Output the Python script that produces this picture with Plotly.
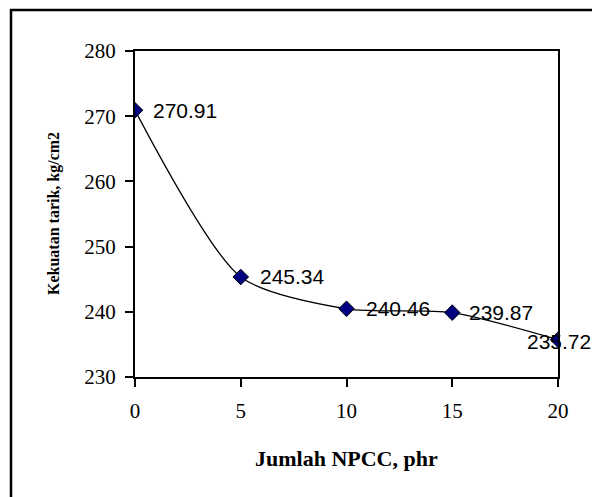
import plotly.graph_objects as go

npcc = [0, 5, 10, 15, 20]
tensile = [270.91, 245.34, 240.46, 239.87, 235.72]
labels = ["270.91", "245.34", "240.46", "239.87", "235.72"]
label_shift = [16, 17, 17, 15, -33]

W, H = 592, 497
L, R, T, B = 135, 34, 51, 120
pw, ph = W - L - R, H - T - B

SERIF = "Liberation Serif, Times New Roman, serif"
SANS = "Liberation Sans, Arial, sans-serif"

fig = go.Figure()
fig.add_trace(go.Scatter(
    x=npcc, y=tensile, mode="lines+markers",
    line=dict(color="black", width=1.3, shape="spline", smoothing=0.7),
    marker=dict(symbol="diamond", size=12, color="#000080",
                line=dict(color="black", width=1)),
    showlegend=False, hoverinfo="skip"))

for xv, yv, lab, sh in zip(npcc, tensile, labels, label_shift):
    fig.add_annotation(x=xv, y=yv, text=lab, showarrow=False,
                       xanchor="left", yanchor="middle", xshift=sh,
                       yshift=(-2 if sh < 0 else 0),
                       font=dict(family=SANS, size=21, color="black"))

axis_common = dict(showline=True, linecolor="black", linewidth=2, mirror=True,
                   ticks="outside", ticklen=8, tickwidth=2, tickcolor="black",
                   showgrid=False, zeroline=False,
                   tickfont=dict(family=SERIF, size=21, color="black"))

fig.update_xaxes(range=[0, 20], tickvals=[0, 5, 10, 15, 20], ticklabelstandoff=6, **axis_common)
fig.update_yaxes(range=[230, 280], tickvals=[230, 240, 250, 260, 270, 280], ticklabelstandoff=5,
                 **axis_common)

# axis titles
fig.add_annotation(xref="paper", yref="paper", x=0.5, y=(H - B - 458) / ph,
                   text="<b>Jumlah NPCC, phr</b>", showarrow=False,
                   xanchor="center", yanchor="middle",
                   font=dict(family=SERIF, size=22, color="black"))
fig.add_annotation(xref="paper", yref="paper", x=(54 - L) / pw, y=0.5,
                   text="<b>Kekuatan tarik, kg/cm2</b>", showarrow=False, textangle=-90,
                   xanchor="center", yanchor="middle",
                   font=dict(family=SERIF, size=16, color="black"))

# outer frame
x0 = (11 - L) / pw
x1 = (W + 10 - L) / pw
y1 = (H - B - 10) / ph
y0 = (H - B - (H + 10)) / ph
fig.add_shape(type="rect", xref="paper", yref="paper", x0=x0, x1=x1, y0=y0, y1=y1,
              line=dict(color="black", width=2.5), layer="below")

fig.update_layout(width=W, height=H, margin=dict(l=L, r=R, t=T, b=B),
                  plot_bgcolor="white", paper_bgcolor="white")

fig.write_html("out.html", config={"displayModeBar": False},
               post_script="document.body.style.margin='0';")
